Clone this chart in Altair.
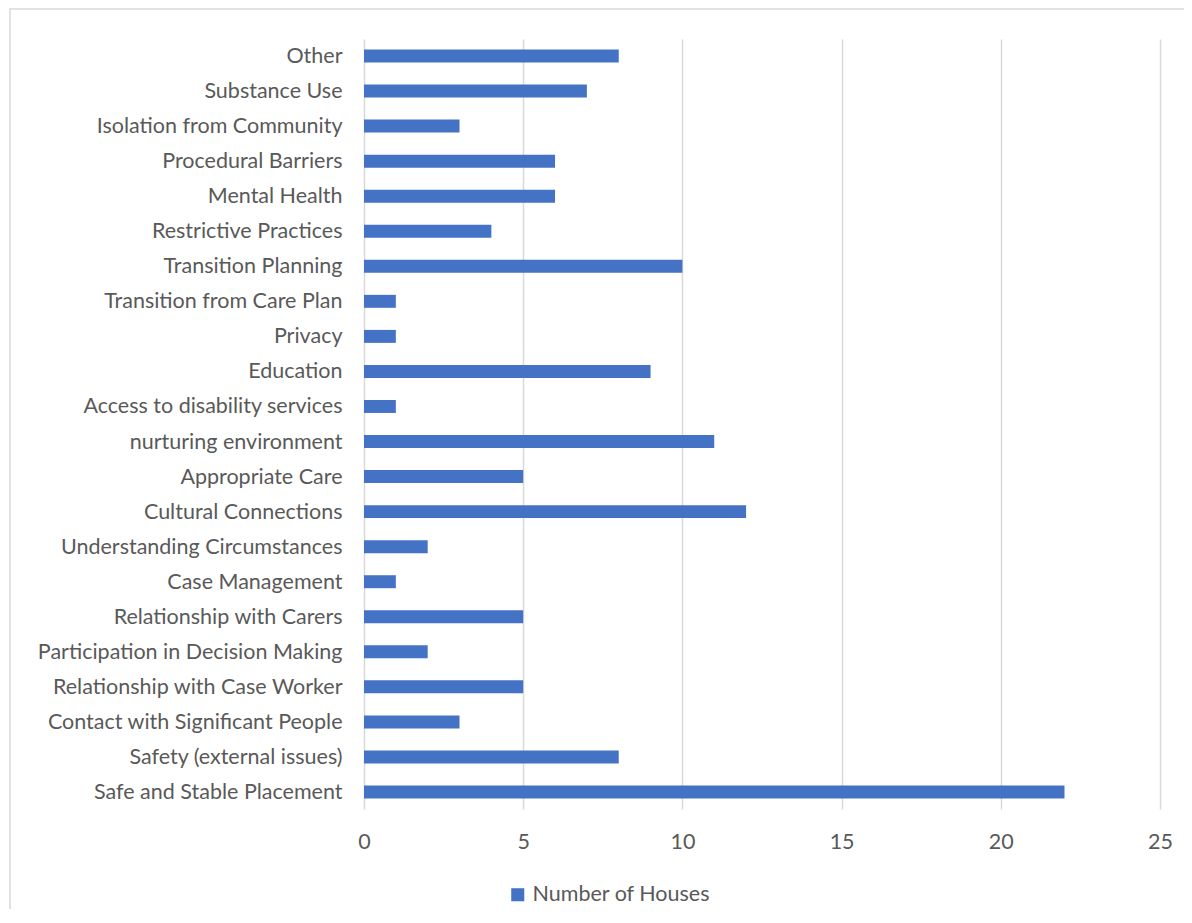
import altair as alt
import pandas as pd

categories = [
    "Other", "Substance Use", "Isolation from Community", "Procedural Barriers",
    "Mental Health", "Restrictive Practices", "Transition Planning",
    "Transition from Care Plan", "Privacy", "Education",
    "Access to disability services", "nurturing environment", "Appropriate Care",
    "Cultural Connections", "Understanding Circumstances", "Case Management",
    "Relationship with Carers", "Participation in Decision Making",
    "Relationship with Case Worker", "Contact with Significant People",
    "Safety (external issues)", "Safe and Stable Placement",
]
values = [8, 7, 3, 6, 6, 4, 10, 1, 1, 9, 1, 11, 5, 12, 2, 1, 5, 2, 5, 3, 8, 22]
series_name = "Number of Houses"
x_ticks = [0, 5, 10, 15, 20, 25]

df = pd.DataFrame({"category": categories, "value": values, "series": series_name})

FONT = "Lato"
FS = 21.5
TXT = "#595959"
GRID = "#d9d9d9"
BLUE = "#4472C4"

bars = alt.Chart(df).mark_bar(color=BLUE).encode(
    y=alt.Y("category:N", sort=categories,
            scale=alt.Scale(paddingInner=0.63, paddingOuter=0.3),
            axis=alt.Axis(title=None, labelFont=FONT, labelFontSize=FS,
                          labelColor=TXT, labelPadding=22, ticks=False,
                          domain=False, labelLimit=400, labelBaseline="middle",
                          labelOffset=1)),
    x=alt.X("value:Q", scale=alt.Scale(domain=[0, 25], nice=False),
            axis=alt.Axis(title=None, values=x_ticks, labelFont=FONT,
                          labelFontSize=FS, labelColor=TXT, labelPadding=22,
                          labelFlush=False, ticks=False, domain=False, grid=True,
                          gridColor=GRID, gridWidth=1.5)),
    fill=alt.Fill("series:N", scale=alt.Scale(range=[BLUE]),
                  legend=alt.Legend(title=None, orient="none", legendX=143,
                                    legendY=845, symbolType="square",
                                    symbolSize=170, symbolStrokeWidth=0,
                                    labelFont=FONT, labelFontSize=FS,
                                    labelColor=TXT, labelOffset=4,
                                    labelLimit=400)),
)

border = alt.Chart(pd.DataFrame({"b": [0]})).mark_rect(
    fill=None, stroke=GRID, strokeWidth=1.5, clip=False
).encode(x=alt.value(-354), x2=alt.value(900), y=alt.value(-30), y2=alt.value(900))

chart = alt.layer(bars, border).properties(
    width=796, height=770,
    autosize=alt.AutoSizeParams(type="none"),
    padding={"left": 356, "top": 31, "right": 24, "bottom": 100},
    background="white",
).configure_view(stroke=None)

chart.save("out.html", embed_options={"renderer": "svg", "actions": False})
